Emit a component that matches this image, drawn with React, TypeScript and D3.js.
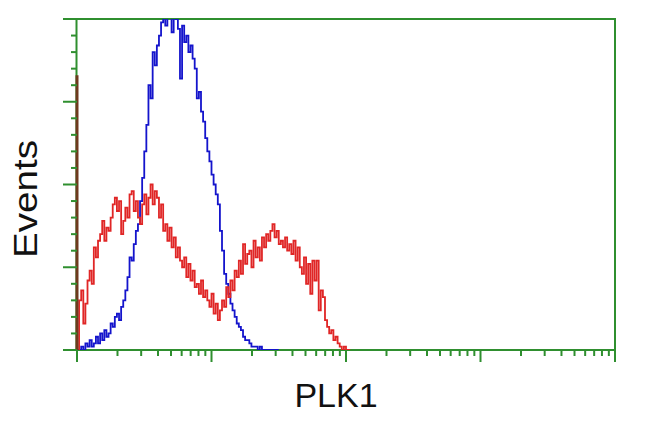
import React from "react";
import * as d3 from "d3";

// Channels: 256 channels over 4 log decades (x = 10^(c/64))
const blueCounts = [
  0, 0, 1, 0, 2, 1, 3, 1, 2, 4, 2, 5, 3, 6, 4, 5, 8, 7, 10, 11,
  9, 13, 15, 18, 22, 28, 27, 32, 36, 38, 45, 52, 60, 68, 80, 76, 90, 86, 92, 95,
  99, 103, 98, 104, 102, 96, 104, 100, 97, 82, 98, 93, 95, 90, 92, 88, 85, 76, 78, 72,
  69, 64, 60, 57, 53, 50, 47, 44, 36, 30, 23, 20, 17, 14, 12, 10, 8, 7, 6, 4,
  3, 3, 2, 1, 1, 1, 0, 1, 0, 0, 0, 0, 0, 0, 0, 0,
];

const redCounts = [
  83, 15, 18, 8, 14, 21, 24, 20, 31, 28, 33, 35, 39, 33, 37, 36, 40, 44, 46, 42,
  45, 35, 39, 43, 40, 47, 48, 42, 45, 40, 38, 44, 47, 41, 46, 50, 44, 48, 46, 40,
  44, 36, 38, 33, 37, 31, 34, 28, 31, 27, 25, 28, 22, 26, 21, 24, 19, 20, 17, 21,
  16, 18, 15, 13, 17, 11, 14, 9, 12, 15, 13, 19, 16, 21, 18, 24, 22, 27, 23, 32,
  26, 29, 30, 25, 33, 28, 31, 27, 34, 31, 35, 33, 36, 38, 34, 36, 32, 33, 31, 34,
  30, 32, 29, 33, 27, 31, 25, 23, 28, 20, 26, 17, 27, 21, 27, 12, 18, 16, 9, 7,
  5, 6, 3, 4, 2, 1, 0, 1, 0, 0,
];

const xDecades = [1, 10, 100, 1000, 10000];
const yMajorTicks = [0, 25, 50, 75, 100];
const xLabel = "PLK1";
const yLabel = "Events";

const W = 650;
const H = 432;
const left = 77;
const right = 615;
const top = 19;
const bottom = 350;
const green = "#2f8f2f";

export default function App() {
  const x = d3.scaleLog().domain([1, 10000]).range([left, right]);
  const y = d3.scaleLinear().domain([0, 100]).range([bottom, top]);
  const chan = (c: number) => Math.pow(10, c / 64);

  const toPts = (arr: number[], start = 0) => {
    const pts: [number, number][] = [[x(chan(start)), y(0)]];
    arr.forEach((v, i) => {
      if (i >= start) pts.push([x(chan(i)), y(v)]);
    });
    pts.push([x(chan(arr.length)), y(0)]);
    return pts;
  };
  const line = d3.line().curve(d3.curveStepAfter);

  const yMinor = d3.range(0, 101, 5).filter((v) => v % 25 !== 0);
  const xMinor: number[] = [];
  xDecades.slice(0, -1).forEach((d) => {
    for (let k = 2; k <= 9; k++) xMinor.push(d * k);
  });

  return (
    <svg
      width={W}
      height={H}
      style={{ position: "absolute", left: 0, top: 0, background: "#fff" }}
    >
      <defs>
        <clipPath id="plot">
          <rect x={left - 2} y={top} width={right - left + 2} height={bottom - top} />
        </clipPath>
      </defs>
      {/* frame */}
      <rect
        x={left - 0.5}
        y={top}
        width={right - left + 0.5}
        height={bottom - top}
        fill="none"
        stroke={green}
        strokeWidth={2}
      />
      <g clipPath="url(#plot)" fill="none" strokeWidth={1.8}>
        <path d={line(toPts(blueCounts)) || ""} stroke="#1414cc" />
        <path d={line(toPts(redCounts, 1)) || ""} stroke="#e02626" />
        <line
          x1={x(chan(0))}
          x2={x(chan(0))}
          y1={y(redCounts[0])}
          y2={y(0)}
          stroke="#6e3a1e"
          strokeWidth={3}
        />
      </g>
      {/* y ticks */}
      {yMajorTicks.map((v) => (
        <line key={"ym" + v} x1={left - 14} x2={left} y1={y(v)} y2={y(v)} stroke={green} strokeWidth={2} />
      ))}
      {yMinor.map((v) => (
        <line key={"yn" + v} x1={left - 6} x2={left} y1={y(v)} y2={y(v)} stroke={green} strokeWidth={2} />
      ))}
      {/* x ticks */}
      {xDecades.map((v) => (
        <line key={"xm" + v} x1={x(v)} x2={x(v)} y1={bottom} y2={bottom + 12} stroke={green} strokeWidth={2} />
      ))}
      {xMinor.map((v) => (
        <line key={"xn" + v} x1={x(v)} x2={x(v)} y1={bottom} y2={bottom + 6} stroke={green} strokeWidth={2} />
      ))}
      <text
        x={336}
        y={407}
        textAnchor="middle"
        fontFamily="Liberation Sans, Arial, sans-serif"
        fontSize={34}
        fill="#111"
      >
        {xLabel}
      </text>
      <text
        transform="translate(37,199) rotate(-90)"
        textAnchor="middle"
        fontFamily="Liberation Sans, Arial, sans-serif"
        fontSize={34}
        fill="#111"
        textLength={118}
        lengthAdjust="spacingAndGlyphs"
      >
        {yLabel}
      </text>
    </svg>
  );
}
